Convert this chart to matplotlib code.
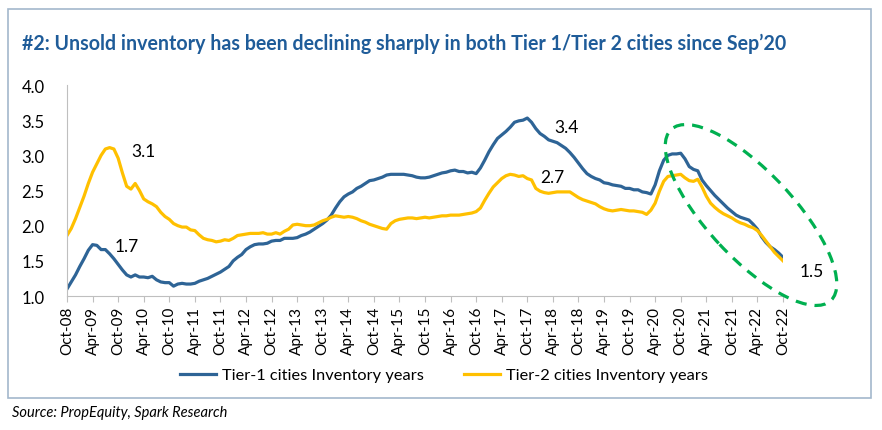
import matplotlib
matplotlib.use('Agg')
import matplotlib.pyplot as plt
from matplotlib.patches import Ellipse, Rectangle
from matplotlib.transforms import IdentityTransform

plt.rcParams['font.family'] = ['Lato', 'DejaVu Sans']

# monthly data, Oct-08 .. Oct-22
tier1 = [1.10, 1.20, 1.30, 1.42, 1.53, 1.65, 1.73, 1.72, 1.66, 1.66, 1.60, 1.53,
         1.45, 1.37, 1.30, 1.27, 1.30, 1.27, 1.27, 1.26, 1.28, 1.23, 1.20, 1.19,
         1.19, 1.14, 1.17, 1.18, 1.17, 1.17, 1.18, 1.21, 1.23, 1.25, 1.28, 1.31,
         1.34, 1.38, 1.42, 1.50, 1.55, 1.59, 1.66, 1.70, 1.73, 1.74, 1.74, 1.75,
         1.78, 1.79, 1.79, 1.82, 1.82, 1.82, 1.83, 1.86, 1.88, 1.91, 1.95, 1.99,
         2.03, 2.08, 2.15, 2.25, 2.34, 2.41, 2.45, 2.48, 2.53, 2.56, 2.60, 2.64,
         2.65, 2.67, 2.69, 2.72, 2.73, 2.73, 2.73, 2.73, 2.72, 2.71, 2.69, 2.68,
         2.68, 2.69, 2.71, 2.73, 2.75, 2.76, 2.78, 2.79, 2.77, 2.77, 2.75, 2.76,
         2.74, 2.82, 2.93, 3.05, 3.15, 3.24, 3.29, 3.34, 3.40, 3.47, 3.49, 3.50,
         3.53, 3.47, 3.38, 3.31, 3.27, 3.22, 3.20, 3.18, 3.14, 3.10, 3.04, 2.97,
         2.89, 2.81, 2.74, 2.70, 2.67, 2.65, 2.61, 2.60, 2.58, 2.57, 2.56, 2.53,
         2.53, 2.51, 2.51, 2.48, 2.47, 2.45, 2.58, 2.78, 2.93, 3.00, 3.02, 3.02,
         3.03, 2.95, 2.84, 2.80, 2.78, 2.65, 2.57, 2.50, 2.43, 2.37, 2.31, 2.25,
         2.20, 2.15, 2.12, 2.10, 2.08, 2.02, 1.95, 1.84, 1.76, 1.70, 1.66, 1.61,
         1.55]

tier2 = [1.86, 1.96, 2.10, 2.26, 2.42, 2.60, 2.76, 2.88, 3.00, 3.09, 3.11, 3.09,
         2.96, 2.75, 2.56, 2.52, 2.60, 2.50, 2.38, 2.34, 2.31, 2.27, 2.19, 2.13,
         2.09, 2.03, 2.00, 1.98, 1.98, 1.94, 1.93, 1.87, 1.82, 1.80, 1.79, 1.77,
         1.78, 1.80, 1.79, 1.82, 1.86, 1.87, 1.88, 1.89, 1.89, 1.89, 1.90, 1.88,
         1.88, 1.90, 1.88, 1.92, 1.95, 2.01, 2.02, 2.01, 2.00, 2.00, 2.01, 2.04,
         2.07, 2.09, 2.12, 2.14, 2.13, 2.12, 2.13, 2.12, 2.10, 2.07, 2.05, 2.02,
         2.00, 1.98, 1.96, 1.95, 2.03, 2.07, 2.09, 2.10, 2.11, 2.11, 2.10, 2.11,
         2.12, 2.11, 2.12, 2.13, 2.14, 2.14, 2.15, 2.15, 2.15, 2.16, 2.17, 2.18,
         2.20, 2.25, 2.36, 2.46, 2.55, 2.61, 2.67, 2.71, 2.73, 2.72, 2.70, 2.71,
         2.67, 2.65, 2.53, 2.49, 2.47, 2.46, 2.47, 2.48, 2.48, 2.48, 2.48, 2.44,
         2.40, 2.37, 2.35, 2.33, 2.31, 2.27, 2.24, 2.22, 2.21, 2.22, 2.23, 2.22,
         2.21, 2.21, 2.20, 2.19, 2.16, 2.22, 2.32, 2.49, 2.63, 2.70, 2.71, 2.72,
         2.73, 2.68, 2.64, 2.63, 2.66, 2.55, 2.42, 2.32, 2.26, 2.21, 2.17, 2.14,
         2.11, 2.07, 2.04, 2.02, 1.99, 1.97, 1.93, 1.86, 1.78, 1.70, 1.62, 1.56,
         1.50]

years = list(range(8, 23))
tick_labels = []
for y in years:
    tick_labels.append(f'Oct-{y:02d}')
    if y < 22:
        tick_labels.append(f'Apr-{y + 1:02d}')

# value callouts: (month index, value, text)
callouts = [(18.0, 3.06, '3.1'), (14.1, 1.71, '1.7'), (117.1, 3.40, '3.4'),
            (113.8, 2.69, '2.7'), (174.8, 1.355, '1.5')]

blue = '#2E6496'
yellow = '#FFC000'

fig = plt.figure(figsize=(8.82, 4.31), dpi=100)
# outer frame (pixel coords, bottom-left origin)
fig.patches.append(Rectangle((8, 431 - 399), 863, 389, transform=IdentityTransform(),
                             fill=False, edgecolor='#A3B8CC', linewidth=1.2))

ax = fig.add_axes([67 / 882, 1 - 297 / 431, (783 - 67) / 882, (297 - 86) / 431])
months = list(range(len(tier1)))
ax.plot(months, tier1, color=blue, lw=2.3, label='Tier-1 cities Inventory years')
ax.plot(months, tier2, color=yellow, lw=2.3, label='Tier-2 cities Inventory years')

ax.set_xlim(0, 168)
ax.set_ylim(1.0, 4.0)
yt = [1.0, 1.5, 2.0, 2.5, 3.0, 3.5, 4.0]
ax.set_yticks(yt)
ax.set_yticklabels([f'{v:.1f}' for v in yt], fontsize=12)
ax.set_xticks(range(0, 169, 6))
ax.set_xticklabels(tick_labels, rotation=90, fontsize=11)
ax.tick_params(axis='y', length=0, pad=16)
ax.tick_params(axis='x', length=4, color='#BFBFBF', pad=3)
for s in ['top', 'right']:
    ax.spines[s].set_visible(False)
ax.spines['left'].set_color('#BFBFBF')
ax.spines['bottom'].set_color('#BFBFBF')

for xm, yv, txt in callouts:
    ax.text(xm, yv, txt, fontsize=12.5, ha='center', va='center', clip_on=False)

ell = Ellipse((751, 431 - 216), 234, 86, angle=-47, transform=IdentityTransform(),
              fill=False, edgecolor='#00B050', linewidth=2.3, linestyle=(0, (3.5, 2.5)))
fig.patches.append(ell)

fig.legend(loc='center', bbox_to_anchor=(444 / 882, 1 - 376 / 431), ncol=2,
           frameon=False, fontsize=11.8, handlelength=2.2, handletextpad=0.4,
           columnspacing=2.4)

fig.text(22 / 882, 1 - 44 / 431,
         "#2: Unsold inventory has been declining sharply in both Tier 1/Tier 2 cities since Sep\u201920",
         fontsize=14.1, fontweight='bold', color='#1F5C99', va='center')
fig.text(12 / 882, 1 - 413 / 431, 'Source: PropEquity, Spark Research',
         fontsize=10.5, style='italic', va='center')

plt.savefig('out.png', dpi=100)
